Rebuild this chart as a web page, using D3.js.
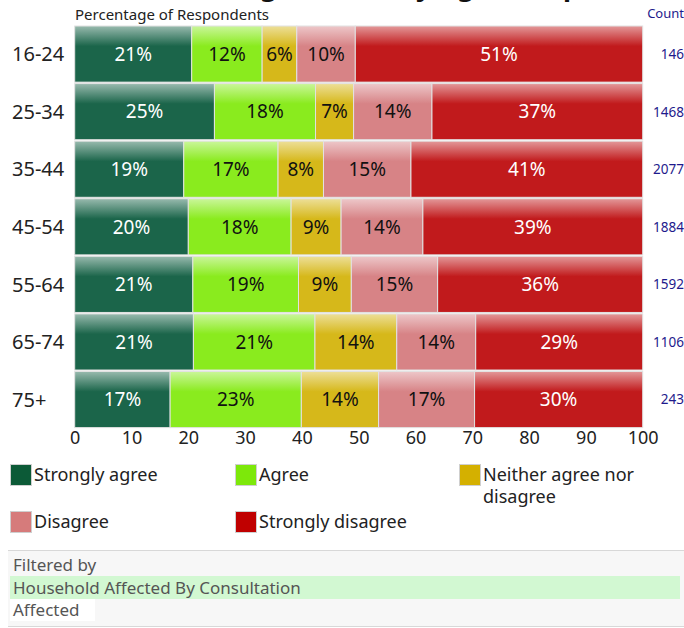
<!DOCTYPE html>
<html>
<head>
<meta charset="utf-8">
<script src="https://cdn.jsdelivr.net/npm/d3@7/dist/d3.min.js"></script>
<style>
  html, body { margin: 0; padding: 0; background: #fff; }
  svg { display: block; font-family: "Noto Sans", "DejaVu Sans", sans-serif; }
</style>
</head>
<body>
<svg id="chart" width="684" height="628"></svg>
<script>
// Age groups (rows) and response categories (stacked segments)
const categories = ["16-24", "25-34", "35-44", "45-54", "55-64", "65-74", "75+"];
const seriesNames = ["Strongly agree", "Agree", "Neither agree nor disagree", "Disagree", "Strongly disagree"];

// Percentage of respondents per age group, one array per response
const stronglyAgree    = [20.6, 24.6, 19.2, 20.0, 20.8, 20.9, 16.8];
const agree            = [12.4, 17.8, 16.6, 18.1, 18.6, 21.4, 23.1];
const neither          = [6.1, 6.7, 8.0, 8.8, 9.3, 14.4, 13.6];
const disagree         = [10.3, 13.8, 15.4, 14.4, 15.2, 13.9, 16.9];
const stronglyDisagree = [50.6, 37.1, 40.8, 38.7, 36.1, 29.4, 29.6];

// Number of respondents per age group
const counts = [146, 1468, 2077, 1884, 1592, 1106, 243];

const xTicks = [0, 10, 20, 30, 40, 50, 60, 70, 80, 90, 100];

const barColors    = ["#1b654a", "#8aeb1e", "#d6b81a", "#d78386", "#c11a1c"];
const legendColors = ["#0c5a37", "#7de80a", "#d4b000", "#d67b7b", "#c00000"];
const labelColors  = ["#ffffff", "#111111", "#111111", "#111111", "#ffffff"];

const filterTitle = "Filtered by";
const filterField = "Household Affected By Consultation";
const filterValue = "Affected";

const seriesValues = [stronglyAgree, agree, neither, disagree, stronglyDisagree];
const table = categories.map((c, i) => {
  const row = { age: c };
  seriesNames.forEach((s, k) => { row[s] = seriesValues[k][i]; });
  return row;
});

const svg = d3.select("#chart");
const defs = svg.append("defs");

// Glossy vertical gradient: lighter top fading into the solid colour
barColors.forEach((col, k) => {
  const g = defs.append("linearGradient")
    .attr("id", "grad" + k).attr("x1", 0).attr("y1", 0).attr("x2", 0).attr("y2", 1);
  g.append("stop").attr("offset", 0).attr("stop-color", d3.interpolateRgb(col, "#ffffff")(0.55));
  g.append("stop").attr("offset", 0.36).attr("stop-color", col);
  g.append("stop").attr("offset", 1).attr("stop-color", col);
});

const x = d3.scaleLinear().domain([0, 100]).range([74.7, 642.7]);
const y = d3.scaleBand().domain(categories).range([26, 427.6]).paddingInner(0.025).paddingOuter(0);

// Title (runs off the top edge of the page)
svg.append("text")
  .attr("x", 580).attr("y", -4)
  .attr("text-anchor", "end")
  .attr("font-size", 27).attr("font-weight", "bold").attr("fill", "#111")
  .text("Agreement by Age Group");

svg.append("text")
  .attr("x", 75).attr("y", 20)
  .attr("font-size", 15).attr("fill", "#222")
  .text("Percentage of Respondents");

svg.append("text")
  .attr("x", 684).attr("y", 18)
  .attr("text-anchor", "end")
  .attr("font-size", 13).attr("fill", "#1e1a8c")
  .text("Count");

const stack = d3.stack().keys(seriesNames);
const layers = stack(table);

const layerG = svg.append("g").selectAll("g")
  .data(layers).join("g");

layerG.selectAll("rect")
  .data((d, k) => d.map(v => ({ v, k })))
  .join("rect")
  .attr("x", d => x(d.v[0]))
  .attr("y", d => y(d.v.data.age))
  .attr("width", d => x(d.v[1]) - x(d.v[0]))
  .attr("height", y.bandwidth())
  .attr("fill", d => `url(#grad${d.k})`)
  .attr("stroke", "#e2e2e2")
  .attr("stroke-width", 1);

layerG.selectAll("text")
  .data((d, k) => d.map(v => ({ v, k })))
  .join("text")
  .attr("x", d => (x(d.v[0]) + x(d.v[1])) / 2)
  .attr("y", d => y(d.v.data.age) + y.bandwidth() / 2)
  .attr("dy", "0.36em")
  .attr("text-anchor", "middle")
  .attr("font-size", 19)
  .attr("fill", d => labelColors[d.k])
  .text(d => Math.round(d.v[1] - d.v[0]) + "%");

// Age group labels
svg.append("g").selectAll("text")
  .data(categories).join("text")
  .attr("x", 12)
  .attr("y", d => y(d) + y.bandwidth() / 2)
  .attr("dy", "0.36em")
  .attr("font-size", 20).attr("fill", "#222")
  .text(d => d);

// Respondent counts
svg.append("g").selectAll("text")
  .data(categories).join("text")
  .attr("x", 684)
  .attr("y", d => y(d) + y.bandwidth() / 2)
  .attr("dy", "0.36em")
  .attr("text-anchor", "end")
  .attr("font-size", 13.5).attr("fill", "#1e1a8c")
  .text((d, i) => counts[i]);

// Percentage axis
const axis = svg.append("g")
  .attr("transform", "translate(0,428)")
  .call(d3.axisBottom(x).tickValues(xTicks).tickSize(0).tickPadding(3));
axis.select(".domain").remove();
axis.selectAll("text")
  .attr("font-family", "'Noto Sans', 'DejaVu Sans', sans-serif")
  .attr("font-size", 18).attr("fill", "#222");

// Legend
const legendPos = [[10, 464], [235, 464], [459, 464], [10, 511], [235, 511]];
const legend = svg.append("g").selectAll("g")
  .data(seriesNames).join("g")
  .attr("transform", (d, i) => `translate(${legendPos[i][0]},${legendPos[i][1]})`);

legend.append("rect")
  .attr("x", 0.5).attr("y", 0.5).attr("width", 21).attr("height", 21)
  .attr("fill", (d, i) => legendColors[i])
  .attr("stroke", "#cfcfcf").attr("stroke-width", 1);

legend.append("text")
  .attr("x", 24).attr("y", 11)
  .attr("dy", "0.36em")
  .attr("font-size", 18).attr("fill", "#222")
  .each(function(d) {
    const el = d3.select(this);
    const maxW = 200;
    const words = d.split(" ");
    let line = [];
    let tspan = el.append("tspan").attr("x", 24);
    words.forEach(w => {
      line.push(w);
      tspan.text(line.join(" "));
      if (tspan.node().getComputedTextLength() > maxW && line.length > 1) {
        line.pop();
        tspan.text(line.join(" "));
        line = [w];
        tspan = el.append("tspan").attr("x", 24).attr("dy", "1.2em").text(w);
      }
    });
  });

// Filter summary panel
const panel = svg.append("g");
panel.append("rect")
  .attr("x", 8).attr("y", 550).attr("width", 676).attr("height", 76)
  .attr("fill", "#f7f7f7");
panel.append("line")
  .attr("x1", 8).attr("x2", 684).attr("y1", 550.5).attr("y2", 550.5)
  .attr("stroke", "#d8d8d8");
panel.append("line")
  .attr("x1", 8).attr("x2", 684).attr("y1", 626.5).attr("y2", 626.5)
  .attr("stroke", "#d8d8d8");
panel.append("rect")
  .attr("x", 10).attr("y", 576).attr("width", 670).attr("height", 23)
  .attr("fill", "#d2f8d2");
panel.append("rect")
  .attr("x", 10).attr("y", 599).attr("width", 85).attr("height", 22)
  .attr("fill", "#ffffff");
panel.append("text")
  .attr("x", 13).attr("y", 565).attr("dy", "0.36em")
  .attr("font-size", 17).attr("fill", "#555")
  .text(filterTitle);
panel.append("text")
  .attr("x", 13).attr("y", 587.5).attr("dy", "0.36em")
  .attr("font-size", 17).attr("fill", "#555")
  .text(filterField);
panel.append("text")
  .attr("x", 13).attr("y", 610).attr("dy", "0.36em")
  .attr("font-size", 17).attr("fill", "#555")
  .text(filterValue);
</script>
</body>
</html>
